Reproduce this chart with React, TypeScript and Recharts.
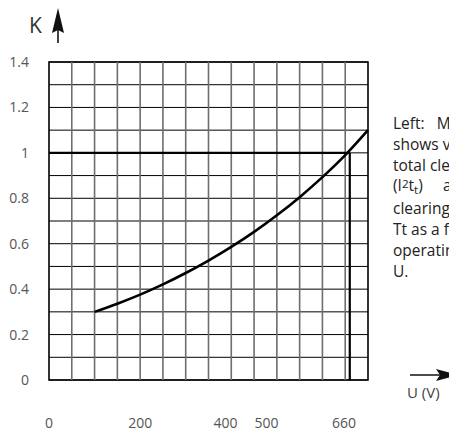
import {
  LineChart,
  Line,
  XAxis,
  YAxis,
  CartesianGrid,
  ReferenceLine,
  ReferenceArea,
} from 'recharts';

// x runs in grid columns (0..14); the printed voltage labels sit at uneven columns
const gridColumns = [1, 2, 3, 4, 5, 6, 7, 8, 9, 10, 11, 12, 13];
const voltTickPos = [0, 4, 7.75, 9.55, 12.95];
const voltTickLabels = ['0', '200', '400', '500', '660'];

const kTicks = [0, 0.1, 0.2, 0.3, 0.4, 0.5, 0.6, 0.7, 0.8, 0.9, 1, 1.1, 1.2, 1.3, 1.4];

// curve K(U)
const curveX = [2, 3, 4, 5, 6, 7, 8, 9, 10, 11, 12, 13, 14];
const curveK = [0.3, 0.336, 0.376, 0.421, 0.471, 0.526, 0.586, 0.652, 0.725, 0.805, 0.893, 0.99, 1.1];

const ratedColumn = 13.2;
const ratedK = 1;

const data = curveX.map((x, i) => ({ x, k: curveK[i] }));

const FONT = '"Open Sans", "Noto Sans", sans-serif';
const axisText = { fill: '#555', fontSize: 14, fontFamily: FONT };

export default function App() {
  return (
    <div style={{ position: 'relative', width: 449, height: 424, overflow: 'hidden', fontFamily: FONT }}>
      <LineChart
        width={449}
        height={424}
        data={data}
        margin={{ top: 54, right: 89, bottom: 0, left: 0 }}
      >
        <XAxis
          xAxisId="u"
          dataKey="x"
          type="number"
          domain={[0, 14]}
          ticks={voltTickPos}
          interval={0}
          tickFormatter={(v: number) => voltTickLabels[voltTickPos.indexOf(v)] ?? ''}
          tick={axisText}
          tickLine={false}
          axisLine={false}
          tickSize={0}
          tickMargin={38}
          height={52}
        />
        <YAxis
          yAxisId="k"
          type="number"
          domain={[0, 1.4]}
          ticks={kTicks}
          interval={0}
          tickFormatter={(v: number) =>
            Math.round(v * 10) % 2 === 0 ? String(+v.toFixed(1)) : ''
          }
          tick={axisText}
          tickLine={false}
          axisLine={false}
          tickSize={0}
          tickMargin={20}
          width={41}
        />
        {gridColumns.map((c) => (
          <ReferenceLine
            key={c}
            xAxisId="u"
            yAxisId="k"
            x={c}
            stroke="#6e6e6e"
            strokeWidth={1.6}
          />
        ))}
        <CartesianGrid
          xAxisId="u"
          yAxisId="k"
          vertical={false}
          stroke="#000"
          strokeWidth={1}
        />
        <ReferenceArea
          xAxisId="u"
          yAxisId="k"
          x1={0}
          x2={14}
          y1={0}
          y2={1.4}
          fill="none"
          stroke="#000"
          strokeWidth={1.6}
          fillOpacity={0}
        />
        <ReferenceLine
          xAxisId="u"
          yAxisId="k"
          segment={[{ x: 0, y: ratedK }, { x: ratedColumn, y: ratedK }]}
          stroke="#000"
          strokeWidth={2.2}
        />
        <ReferenceLine
          xAxisId="u"
          yAxisId="k"
          segment={[{ x: ratedColumn, y: 0 }, { x: ratedColumn, y: ratedK }]}
          stroke="#000"
          strokeWidth={2.2}
        />
        <Line
          xAxisId="u"
          yAxisId="k"
          dataKey="k"
          type="monotone"
          stroke="#000"
          strokeWidth={2.6}
          dot={false}
          activeDot={false}
          isAnimationActive={false}
        />
      </LineChart>

      <svg
        width={449}
        height={424}
        style={{ position: 'absolute', left: 0, top: 0, pointerEvents: 'none' }}
      >
        <text x={21} y={25} fontSize={21} fill="#333" fontFamily={FONT}>
          K
        </text>
        <line x1={50} y1={20} x2={50} y2={35} stroke="#111" strokeWidth={1.6} />
        <path d="M50 0 L56 25 L50 22 L44 25 Z" fill="#111" />

        <line x1={402} y1={367} x2={440} y2={367} stroke="#111" strokeWidth={1.6} />
        <path d="M450 367 L428 361 L432 367 L428 373 Z" fill="#111" />
        <text x={399} y={390} fontSize={15} fill="#444" fontFamily={FONT}>
          U (V)
        </text>
      </svg>

      <div
        style={{
          position: 'absolute',
          left: 385,
          top: 105,
          width: 220,
          fontSize: 15.5,
          lineHeight: '20.8px',
          color: '#222',
          whiteSpace: 'pre',
        }}
      >
        <div>{'Left:   Multiplier K'}</div>
        <div>shows variation of</div>
        <div>total clearing integral</div>
        <div>
          (I<span style={{ fontSize: '0.75em', position: 'relative', top: '-0.3em' }}>2</span>t
          <span style={{ fontSize: '0.75em', position: 'relative', top: '0.2em' }}>t</span>)
          {'     and total'}
        </div>
        <div>clearing time</div>
        <div>Tt as a function of</div>
        <div>operating voltage</div>
        <div>U.</div>
      </div>
    </div>
  );
}
